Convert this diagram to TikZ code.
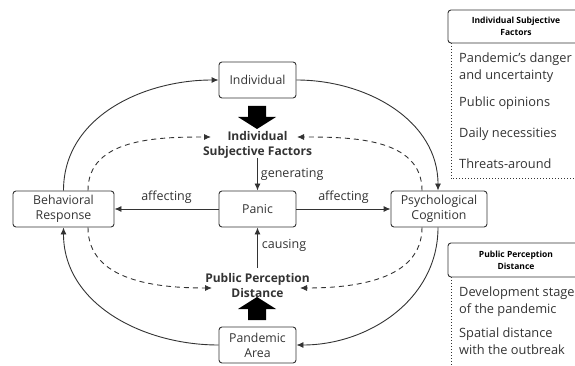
\documentclass[tikz,border=0pt]{standalone}
\usepackage{fontspec}
\setmainfont{Open Sans}
\usetikzlibrary{arrows.meta}
\definecolor{ink}{HTML}{333333}
\tikzset{
  box/.style={draw=ink, line width=0.9pt, rounded corners=3pt, minimum width=77pt, minimum height=36pt, align=center, inner sep=1pt, font=\fontsize{12.3}{15}\selectfont, text=ink},
  lbl/.style={font=\fontsize{12.5}{15}\selectfont, text=ink, inner sep=0pt},
  bold/.style={font=\bfseries\fontsize{12}{15}\selectfont, text=ink, align=center, inner sep=0pt},
  conn/.style={draw=ink, line width=0.9pt, -{Latex[length=7pt,width=6pt]}},
  dconn/.style={draw=ink, line width=0.9pt, dash pattern=on 5pt off 4pt, -{Latex[length=7pt,width=6pt]}},
  item/.style={font=\fontsize{12.8}{17}\selectfont, text=ink, anchor=west, align=left, inner sep=0pt},
  hdr/.style={font=\bfseries\fontsize{8.5}{12}\selectfont, text=black, align=center, inner sep=0pt},
  dots/.style={draw=ink, line width=1pt, dash pattern=on 1pt off 2pt}
}
\begin{document}
\begin{tikzpicture}[x=1pt,y=-1pt]
\useasboundingbox (0,0) rectangle (575,366);
% boxes
\node[box] (ind) at (257.5,80) {Individual};
\node[box, minimum width=101pt] (beh) at (63.5,209) {Behavioral\\Response};
\node[box] (pan) at (257.5,209) {Panic};
\node[box, minimum width=96pt] (psy) at (439,209) {Psychological\\Cognition};
\node[box] (pa) at (257.5,345) {Pandemic\\Area};
% bold factor labels
\node[bold] (isf) at (257.5,145) {Individual\\Subjective Factors};
\node[bold] (ppd) at (257.5,285) {Public Perception\\Distance};
\coordinate (isfL) at (211,137);
\coordinate (isfR) at (297,137);
\coordinate (ppdL) at (212,288);
\coordinate (ppdR) at (300,288);
% big black arrows
\fill[black] (248,106) -- (266,106) -- (266,117) -- (276,117) -- (257,129) -- (238,117) -- (248,117) -- cycle;
\fill[black] (248,320) -- (266,320) -- (266,309) -- (276,309) -- (257,297) -- (238,309) -- (248,309) -- cycle;
% straight arrows
\draw[conn] (257.5,158) -- (pan.north) node[lbl, pos=0.5, right=3pt] {generating};
\draw[conn] (pan.west) -- node[lbl, above=5pt] {affecting} (beh.east);
\draw[conn] (pan.east) -- node[lbl, above=5pt] {affecting} (psy.north west |- pan.east);
\draw[conn] (257.5,268) -- (pan.south) node[lbl, pos=0.55, right=4pt] {causing};
% solid loop
\draw[conn] (beh.north) to[out=90,in=180] (ind.west);
\draw[conn] (ind.east) to[out=0,in=90] ([xshift=-1pt]psy.north);
\draw[conn] ([xshift=-1pt]psy.south) to[out=-90,in=0] (pa.east);
\draw[conn] (pa.west) to[out=180,in=-90] (beh.south);
% dashed loop
\draw[dconn] ([xshift=24.5pt]beh.north) to[out=90,in=180] (isfL);
\draw[dconn] ([xshift=-17pt]psy.north) to[out=90,in=0] (isfR);
\draw[dconn] ([xshift=24.5pt]beh.south) to[out=-90,in=180] (ppdL);
\draw[dconn] ([xshift=-17pt]psy.south) to[out=-90,in=0] (ppdR);
% right panel 1
\draw[draw=ink, line width=0.9pt, rounded corners=3pt] (600,10) -- (448,10) -- (448,43) -- (600,43);
\node[hdr] (h1) at (516,26.5) {Individual Subjective\\Factors};
\draw[dots] (451,43) -- (451,179) -- (575,179);
\node[item] (i1) at (459,68) {Pandemic's danger\\and uncertainty};
\node[item] (i2) at (459,103) {Public opinions};
\node[item] (i3) at (459,134) {Daily necessities};
\node[item] (i4) at (459,164) {Threats-around};
% right panel 2
\draw[draw=ink, line width=0.9pt, rounded corners=3pt] (600,243) -- (448,243) -- (448,277) -- (600,277);
\node[hdr] (h2) at (516,260) {Public Perception\\Distance};
\draw[dots] (451,277) -- (451,366);
\node[item] (j1) at (459,302) {Development stage\\of the pandemic};
\node[item] (j2) at (459,341) {Spatial distance\\with the outbreak};
\end{tikzpicture}
\end{document}
